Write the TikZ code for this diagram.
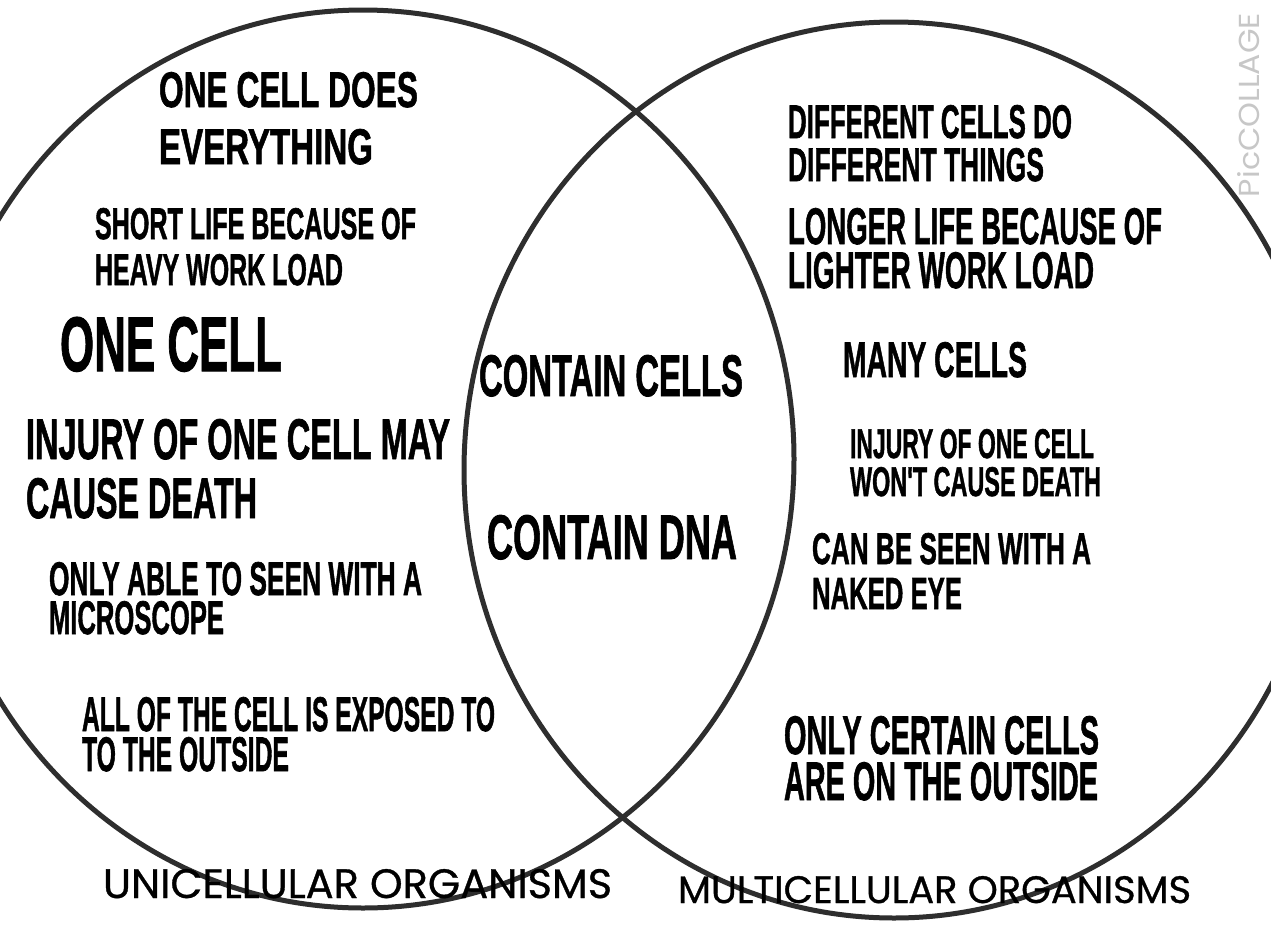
\documentclass[tikz,border=0pt]{standalone}
\usepackage{fontspec}
\usepackage{graphicx}
\newfontfamily\condfont{Liberation Sans}[UprightFont=* Bold, FakeBold=1.5]
\newfontfamily\geofont{Poppins}[FakeBold=0.8]
\newfontfamily\markfont{Poppins}
\newcommand\fitline[3]{\resizebox{#1pt}{#2pt}{#3}}
\tikzset{
  ring/.style={line width=5pt, draw=black!82},
  blk/.style={anchor=north west, inner sep=0pt, outer sep=0pt, align=left,
              font=\condfont\fontsize{20}{#1}\selectfont},
  settitle/.style={anchor=north west, inner sep=0pt, outer sep=0pt, font=\geofont}
}
\begin{document}
\begin{tikzpicture}[x=1pt,y=-1pt]
\useasboundingbox (0,0) rectangle (1271,926);
\fill[white] (0,0) rectangle (1271,926);
\begin{scope}
  \clip (0,0) rectangle (1271,926);
  \draw[ring] (363,459) ellipse [x radius=431, y radius=449];
  \draw[ring] (894,470) ellipse [x radius=430, y radius=448];
\end{scope}

% left set
\node[blk=57] (doesall) at (159,72)
  {\fitline{259}{35}{ONE CELL DOES}\\\fitline{214}{35}{EVERYTHING}};
\node[blk=46] (shortlife) at (95,208)
  {\fitline{321}{31}{SHORT LIFE BECAUSE OF}\\\fitline{248}{31}{HEAVY WORK LOAD}};
\node[blk=60] (onecell) at (60,317) {\fitline{222}{54}{ONE CELL}};
\node[blk=59] (injuryone) at (26,419)
  {\fitline{424}{40}{INJURY OF ONE CELL MAY}\\\fitline{231}{40}{CAUSE DEATH}};
\node[blk=39] (micro) at (49,562)
  {\fitline{373}{33}{ONLY ABLE TO SEEN WITH A}\\\fitline{175}{33}{MICROSCOPE}};
\node[blk=40] (exposed) at (82,697)
  {\fitline{413}{34}{ALL OF THE CELL IS EXPOSED TO}\\\fitline{207}{34}{TO THE OUTSIDE}};

% middle
\node[blk=60] (cells) at (479,355) {\fitline{264}{41}{CONTAIN CELLS}};
\node[blk=60] (dna) at (487,515) {\fitline{250}{44}{CONTAIN DNA}};

% right set
\node[blk=43] (different) at (788,105)
  {\fitline{284}{33}{DIFFERENT CELLS DO}\\\fitline{256}{33}{DIFFERENT THINGS}};
\node[blk=44] (longer) at (788,208)
  {\fitline{374}{36}{LONGER LIFE BECAUSE OF}\\\fitline{306}{36}{LIGHTER WORK LOAD}};
\node[blk=60] (many) at (843,342) {\fitline{184}{35}{MANY CELLS}};
\node[blk=38] (injurymany) at (850,429)
  {\fitline{244}{29}{INJURY OF ONE CELL}\\\fitline{251}{29}{WON'T CAUSE DEATH}};
\node[blk=45] (naked) at (812,533)
  {\fitline{279}{31}{CAN BE SEEN WITH A}\\\fitline{150}{31}{NAKED EYE}};
\node[blk=46] (certain) at (784,716)
  {\fitline{315}{38}{ONLY CERTAIN CELLS}\\\fitline{314}{38}{ARE ON THE OUTSIDE}};

% set titles
\node[settitle] (uni) at (103,869) {\fitline{509}{29}{UNICELLULAR ORGANISMS}};
\node[settitle] (multi) at (678,876) {\fitline{513}{27}{MULTICELLULAR ORGANISMS}};

% watermark
\node[rotate=90, inner sep=0pt, text=black!22, font=\markfont] (wm) at (1249,105)
  {\fitline{184}{22}{PicCOLLAGE}};
\end{tikzpicture}
\end{document}
